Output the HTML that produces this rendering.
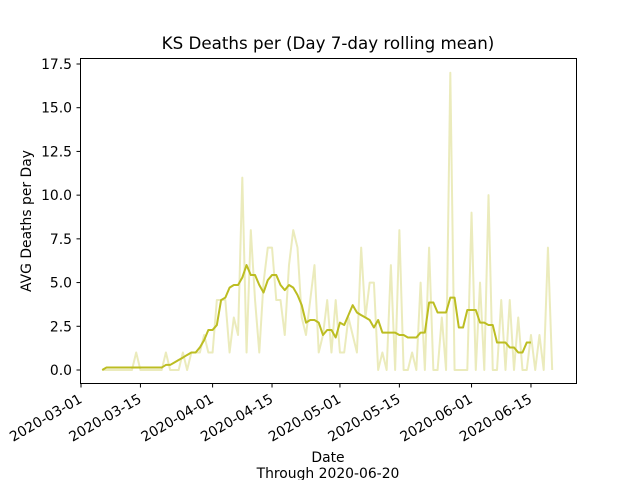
<!DOCTYPE html>
<html><head><meta charset="utf-8"><style>
body{margin:0;background:#fff;}
svg{display:block;font-family:"DejaVu Sans","Liberation Sans",sans-serif;}
</style></head><body>
<svg id="chart" width="640" height="480" xmlns="http://www.w3.org/2000/svg">
<rect width="640" height="480" fill="#fff"/>
<text x="328" y="49" font-size="16.7" text-anchor="middle">KS Deaths per (Day 7-day rolling mean)</text>
<text x="328" y="462" font-size="13.9" text-anchor="middle">Date</text>
<text x="328" y="478" font-size="13.9" text-anchor="middle">Through 2020-06-20</text>
<text transform="translate(31,221) rotate(-90)" font-size="13.9" text-anchor="middle">AVG Deaths per Day</text>
<g id="marks"></g>
<rect x="80.5" y="58.5" width="496" height="325" fill="none" stroke="#000" stroke-width="1"/>
<g id="axes"></g>
</svg>
<script>
const startDay = 5;
const rawDeaths = [0,0,0,0,0,0,0,0,1,0,0,0,0,0,0,1,0,0,0,1,0,1,1,1,2,1,1,4,4,4,1,3,2,11,1,8,4,1,5,7,7,4,4,2,6,8,7,3,2,4,6,1,2,4,1,4,1,1,3,2,1,7,3,5,5,0,1,0,6,0,8,0,0,1,0,5,0,7,0,0,3,0,17,0,0,0,0,9,0,5,0,10,0,0,4,0,4,0,3,0,0,2,0,2,0,7,0];
const rollingMean = [0,0.14,0.14,0.14,0.14,0.14,0.14,0.14,0.14,0.14,0.14,0.14,0.14,0.14,0.14,0.29,0.29,0.43,0.57,0.71,0.86,1.0,1.0,1.29,1.71,2.29,2.29,2.57,4.0,4.14,4.71,4.86,4.86,5.29,6.0,5.43,5.43,4.86,4.43,5.14,5.43,5.43,4.86,4.57,4.86,4.71,4.29,3.71,2.71,2.86,2.86,2.71,2.0,2.29,2.29,1.86,2.71,2.57,3.14,3.71,3.29,3.14,3.0,2.86,2.43,2.86,2.14,2.14,2.14,2.14,2.0,2.0,1.86,1.86,1.86,2.14,2.14,3.86,3.86,3.29,3.29,3.29,4.14,4.14,2.43,2.43,3.43,3.43,3.43,2.71,2.71,2.57,2.57,1.57,1.57,1.57,1.29,1.29,1.0,1.0,1.57,1.57];
const yTicks = [0,2.5,5,7.5,10,12.5,15,17.5];
const xTickLabels = ["2020-03-01","2020-03-15","2020-04-01","2020-04-15","2020-05-01","2020-05-15","2020-06-01","2020-06-15"];
const xTickDays = [0,14,31,45,61,75,92,106];

const NS="http://www.w3.org/2000/svg";
function xs(d){return 81+d*4.245;}
function ys(v){return 370-v*17.486;}
function mk(t,a,p){const e=document.createElementNS(NS,t);for(const k in a)e.setAttribute(k,a[k]);p.appendChild(e);return e;}
const marks=document.getElementById('marks'), axes=document.getElementById('axes');

const rawPts=rawDeaths.map((v,i)=>xs(startDay+i).toFixed(2)+','+ys(v).toFixed(2)).join(' ');
const rl=mk('polyline',{points:rawPts,fill:'none',stroke:'#bcbd22','stroke-opacity':'0.3','stroke-width':'2','stroke-linejoin':'round'},marks);


const avgPts=rollingMean.map((v,i)=>xs(startDay+i).toFixed(2)+','+ys(v).toFixed(2)).join(' ');
const al=mk('polyline',{points:avgPts,fill:'none',stroke:'#bcbd22','stroke-width':'2','stroke-linejoin':'round'},marks);



yTicks.forEach(v=>{
  const y=ys(v);
  const t=mk('line',{x1:76.5,x2:80.5,y1:y,y2:y,stroke:'#000'},axes);
  
  
  const l=mk('text',{x:72,y:y+5,'font-size':'13.9','text-anchor':'end'},axes);
  l.textContent=v.toFixed(1);
  
  
});
xTickDays.forEach((d,i)=>{
  const x=xs(d);
  const t=mk('line',{x1:x,x2:x,y1:383.5,y2:387.5,stroke:'#000'},axes);
  
  
  const l=mk('text',{transform:`translate(${x-3},${393}) rotate(-30)`,'font-size':'13.9','text-anchor':'end',y:'10'},axes);
  l.textContent=xTickLabels[i];
  
  
});
</script>
</body></html>
